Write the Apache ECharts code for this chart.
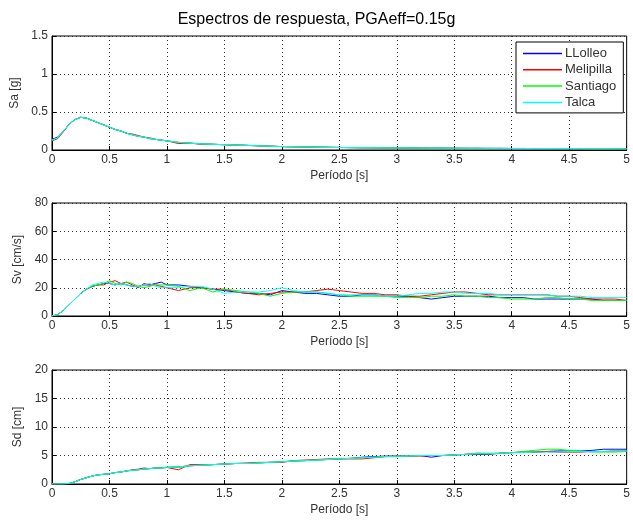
<!DOCTYPE html>
<html>
<head>
<meta charset="utf-8">
<script src="https://cdn.jsdelivr.net/npm/echarts@6/dist/echarts.min.js"></script>
<style>
html,body{margin:0;padding:0;background:#fff;}
#chart{width:633px;height:522px;}
</style>
</head>
<body>
<div id="chart"></div>
<script>
// Period axis (s)
const periods = [0,0.05,0.1,0.15,0.2,0.25,0.3,0.35,0.4,0.45,0.5,0.55,0.6,0.65,0.7,0.75,0.8,0.85,0.9,0.95,1.0,
  1.1,1.2,1.3,1.4,1.5,1.6,1.7,1.8,1.9,2.0,2.1,2.2,2.3,2.4,2.5,2.6,2.7,2.8,2.9,3.0,
  3.1,3.2,3.3,3.4,3.5,3.6,3.7,3.8,3.9,4.0,4.1,4.2,4.3,4.4,4.5,4.6,4.7,4.8,4.9,5.0];

const stations = ['LLolleo','Melipilla','Santiago','Talca'];
const colors = ['#0000ff','#ff0000','#00ff00','#00ffff'];

// Pseudo-acceleration spectra Sa [g]
const saLLolleo = [0.14,0.17,0.25,0.34,0.40,0.43,0.42,0.39,0.36,0.33,0.30,0.27,0.25,0.22,0.20,0.18,0.17,0.15,0.14,0.13,0.12,
  0.10,0.09,0.08,0.075,0.07,0.065,0.062,0.055,0.05,0.045,0.042,0.04,0.038,0.035,0.033,0.031,0.03,0.029,0.028,0.027,
  0.026,0.025,0.024,0.024,0.023,0.022,0.022,0.021,0.021,0.02,0.02,0.019,0.019,0.018,0.018,0.018,0.019,0.019,0.018,0.016];
const saMelipilla = [0.12,0.15,0.24,0.34,0.40,0.43,0.42,0.39,0.36,0.33,0.30,0.27,0.25,0.22,0.21,0.19,0.17,0.16,0.14,0.13,0.12,
  0.085,0.09,0.075,0.075,0.07,0.065,0.06,0.055,0.05,0.045,0.042,0.04,0.038,0.036,0.034,0.032,0.03,0.029,0.028,0.027,
  0.026,0.025,0.024,0.024,0.023,0.022,0.022,0.021,0.021,0.02,0.02,0.019,0.019,0.018,0.018,0.018,0.017,0.017,0.016,0.015];
const saSantiago = [0.13,0.16,0.25,0.34,0.40,0.43,0.42,0.39,0.36,0.33,0.30,0.27,0.25,0.22,0.20,0.18,0.17,0.15,0.14,0.13,0.12,
  0.10,0.09,0.08,0.075,0.07,0.065,0.06,0.055,0.05,0.045,0.042,0.04,0.038,0.035,0.033,0.031,0.03,0.029,0.028,0.027,
  0.027,0.025,0.024,0.024,0.023,0.022,0.022,0.021,0.021,0.02,0.02,0.019,0.019,0.018,0.018,0.018,0.017,0.017,0.016,0.016];
const saTalca = [0.13,0.16,0.25,0.34,0.40,0.43,0.42,0.39,0.36,0.33,0.30,0.27,0.25,0.22,0.20,0.18,0.17,0.15,0.14,0.13,0.12,
  0.10,0.09,0.08,0.075,0.07,0.065,0.06,0.055,0.05,0.045,0.042,0.04,0.038,0.035,0.033,0.031,0.03,0.029,0.028,0.027,
  0.026,0.025,0.024,0.024,0.023,0.022,0.022,0.021,0.021,0.02,0.02,0.019,0.019,0.018,0.018,0.018,0.017,0.017,0.016,0.016];

// Pseudo-velocity spectra Sv [cm/s]
const svLLolleo = [0,1,4,8,12,16,19,21,22,23,23,22,23,22,21,21,22,22,23,24,22,
  22,21,20,19,18,17,16,16,15,18,17,16,16,15,14,14,15,15,14,14,
  14,13,12,13,14,14,14,14,13,13,13,12,12,12,12,12,12,11,11,11];
const svMelipilla = [0,1,4,8,12,16,19,21,22,22,24,25,23,24,22,20,23,22,22,21,20,
  18,20,20,19,19,17,16,15,16,17,17,17,18,19,18,17,16,16,15,15,
  14,14,15,16,17,17,16,15,15,15,15,15,15,14,14,13,12,12,12,11];
const svSantiago = [0,1,4,8,12,16,19,21,22,23,25,23,22,24,23,21,20,21,22,22,22,
  21,18,20,17,19,18,17,16,14,16,17,17,17,16,15,14,14,14,14,13,
  13,13,14,14,15,14,14,13,13,12,12,12,13,13,12,12,11,11,11,11];
const svTalca = [0,1,4,8,12,16,19,22,23,24,23,22,23,22,21,21,22,23,21,20,20,
  20,21,21,19,16,17,17,17,18,20,18,17,17,16,15,15,15,15,14,14,
  15,16,16,17,17,16,16,16,15,15,15,15,15,14,14,14,13,13,13,13];

// Spectral displacement Sd [cm]
const sdLLolleo = [0,0,0,0.1,0.4,0.8,1.1,1.4,1.6,1.7,1.8,2.0,2.1,2.3,2.4,2.5,2.6,2.7,2.8,2.8,2.9,
  3.0,3.2,3.3,3.4,3.5,3.6,3.6,3.7,3.8,3.9,4.0,4.1,4.2,4.3,4.4,4.5,4.7,4.8,4.9,4.9,
  4.9,5.0,4.7,5.0,5.1,5.2,5.2,5.2,5.4,5.5,5.6,5.6,5.7,5.8,5.8,5.8,5.9,6.1,6.1,6.1];
const sdMelipilla = [0,0,0,0.1,0.4,0.8,1.1,1.4,1.6,1.7,1.8,2.0,2.1,2.3,2.5,2.6,2.8,2.7,2.8,2.9,2.9,
  2.5,3.4,3.4,3.4,3.5,3.6,3.7,3.8,3.8,3.8,4.1,4.2,4.3,4.4,4.4,4.4,4.4,4.6,4.8,4.9,
  4.9,4.9,5.0,5.0,5.1,5.2,5.4,5.3,5.4,5.5,5.6,5.6,5.7,5.6,5.6,5.6,5.7,5.7,5.8,5.8];
const sdSantiago = [0,0,0,0.1,0.4,0.8,1.1,1.4,1.6,1.7,1.8,2.0,2.1,2.3,2.4,2.5,2.6,2.7,2.8,2.8,3.0,
  2.9,3.2,3.3,3.4,3.5,3.6,3.6,3.7,3.8,3.9,4.1,4.1,4.2,4.3,4.5,4.5,4.6,4.7,4.8,4.8,
  4.9,5.0,5.0,5.0,5.1,5.2,5.4,5.4,5.4,5.5,5.7,5.9,6.1,6.1,5.9,5.8,5.6,5.6,5.6,5.7];
const sdTalca = [0,0,0,0.1,0.4,0.8,1.1,1.4,1.6,1.7,1.8,2.0,2.1,2.3,2.4,2.5,2.6,2.7,2.8,2.8,2.9,
  3.0,3.2,3.3,3.4,3.5,3.6,3.6,3.7,3.8,3.9,4.0,4.1,4.2,4.3,4.4,4.5,4.6,4.7,4.8,4.9,
  4.9,5.0,5.0,5.0,5.1,5.2,5.3,5.3,5.4,5.5,5.5,5.6,5.6,5.6,5.7,5.7,5.7,5.7,5.8,5.8];

const xTicks = ['0','0.5','1','1.5','2','2.5','3','3.5','4','4.5','5'];

const panels = [
  {name:'Sa [g]', max:1.5, step:0.5, data:[saLLolleo,saMelipilla,saSantiago,saTalca], top:36, height:114},
  {name:'Sv [cm/s]', max:80, step:20, data:[svLLolleo,svMelipilla,svSantiago,svTalca], top:203, height:113},
  {name:'Sd [cm]', max:20, step:5, data:[sdLLolleo,sdMelipilla,sdSantiago,sdTalca], top:370, height:114}
];

const font = 'Liberation Sans, Arial, sans-serif';
const gridLine = {show:true, lineStyle:{color:'#333', width:1, type:[1,3]}};

const grids = [], xAxes = [], yAxes = [], series = [];
panels.forEach((p, i) => {
  grids.push({left:52, right:6, top:p.top, height:p.height, show:true, borderColor:'#000', borderWidth:1, backgroundColor:'#fff'});
  xAxes.push({
    type:'value', gridIndex:i, min:0, max:5, interval:0.5,
    name:'Período [s]', nameLocation:'middle', nameGap:20,
    nameTextStyle:{fontFamily:font, fontSize:12, color:'#333'},
    axisLine:{show:true, onZero:false, lineStyle:{color:'#000'}},
    axisTick:{show:true, inside:true, length:4, lineStyle:{color:'#000'}},
    axisLabel:{fontFamily:font, fontSize:12, color:'#333', margin:4,
      formatter:v => xTicks[Math.round(v/0.5)]},
    splitLine:gridLine
  });
  yAxes.push({
    type:'value', gridIndex:i, min:0, max:p.max, interval:p.step,
    name:p.name, nameLocation:'middle', nameGap:27, nameRotate:90,
    nameTextStyle:{fontFamily:font, fontSize:12, color:'#333'},
    axisLine:{show:true, lineStyle:{color:'#000'}},
    axisTick:{show:true, inside:true, length:4, lineStyle:{color:'#000'}},
    axisLabel:{fontFamily:font, fontSize:12, color:'#333', margin:4},
    splitLine:gridLine
  });
  p.data.forEach((vals, k) => {
    series.push({
      type:'line', name:stations[k], xAxisIndex:i, yAxisIndex:i,
      data:periods.map((t, j) => [t, vals[j]]),
      showSymbol:false, symbol:'none', animation:false,
      lineStyle:{color:colors[k], width:1}, itemStyle:{color:colors[k]},
      z:2+k
    });
  });
});

const chart = echarts.init(document.getElementById('chart'), null, {renderer:'canvas'});
chart.setOption({
  animation:false,
  backgroundColor:'#fff',
  title:{text:'Espectros de respuesta, PGAeff=0.15g', left:'center', top:7,
    textStyle:{fontFamily:font, fontSize:16, fontWeight:'normal', color:'#000'}},
  legend:{
    data:stations, orient:'vertical', left:516, top:42,
    backgroundColor:'#fff', borderColor:'#000', borderWidth:1, borderRadius:0,
    padding:[5,7,4,7], itemGap:3.3, itemWidth:39, itemHeight:1.5, icon:'rect',
    textStyle:{fontFamily:font, fontSize:13, color:'#333', padding:[0,0,0,-2]}
  },
  grid:grids, xAxis:xAxes, yAxis:yAxes, series:series
});
</script>
</body>
</html>
